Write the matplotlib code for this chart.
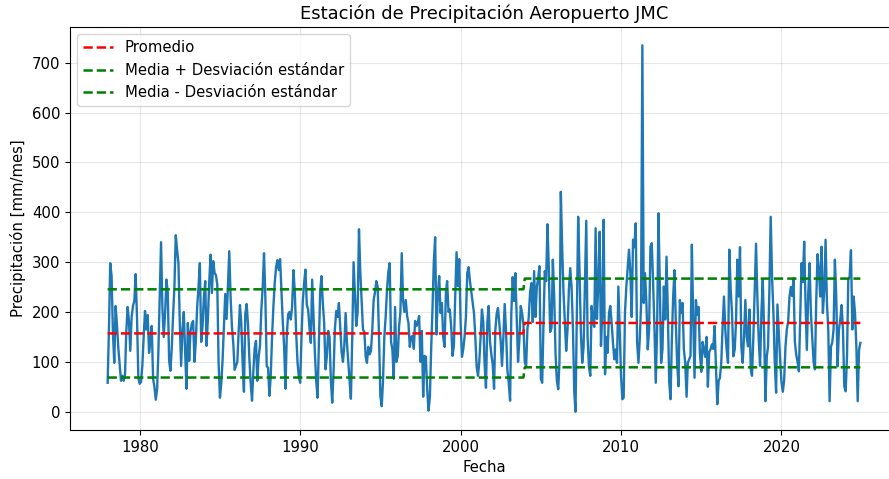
import matplotlib
matplotlib.use("Agg")
import matplotlib.pyplot as plt
import numpy as np
import pandas as pd

# Precipitación mensual (mm/mes), una fila por año, enero a diciembre
precip_1978_1989 = [
    58, 170, 298, 272, 160, 98, 212, 175, 128, 95, 62, 72,
    62, 75, 160, 210, 182, 122, 190, 212, 222, 276, 188, 68,
    56, 60, 92, 152, 202, 165, 194, 118, 142, 172, 66, 50,
    24, 46, 120, 232, 340, 208, 150, 198, 265, 238, 102, 82,
    130, 198, 250, 354, 325, 298, 180, 92, 165, 200, 118, 46,
    178, 102, 160, 176, 182, 100, 140, 210, 250, 298, 140, 170,
    230, 262, 132, 186, 258, 315, 238, 302, 278, 274, 255, 98,
    28, 58, 102, 168, 236, 186, 250, 322, 228, 170, 136, 84,
    92, 100, 158, 214, 178, 98, 40, 196, 216, 176, 108, 58,
    22, 82, 126, 142, 62, 110, 132, 205, 250, 318, 228, 92,
    88, 32, 70, 150, 210, 258, 290, 304, 284, 306, 240, 180,
    130, 46, 150, 195, 200, 185, 210, 284, 240, 160, 100, 70,
]
precip_1990_1999 = [
    58, 150, 220, 258, 285, 214, 205, 168, 138, 265, 190, 120,
    62, 28, 130, 240, 272, 218, 178, 85, 112, 162, 150, 62,
    18, 82, 165, 202, 190, 218, 168, 120, 100, 132, 198, 138,
    98, 60, 26, 150, 300, 236, 172, 200, 366, 280, 220, 165,
    160, 110, 98, 130, 115, 122, 165, 224, 240, 262, 250, 150,
    31, 11, 60, 150, 190, 245, 280, 298, 140, 125, 66, 210,
    100, 112, 170, 200, 318, 222, 200, 224, 192, 178, 130, 150,
    152, 126, 182, 172, 178, 192, 100, 162, 30, 112, 110, 46,
    2, 30, 122, 205, 300, 350, 155, 235, 272, 198, 218, 150,
    130, 240, 262, 200, 205, 170, 112, 132, 232, 320, 252, 306,
]
precip_2000_2009 = [
    182, 110, 125, 150, 190, 278, 290, 262, 240, 220, 198, 150,
    90, 72, 100, 150, 205, 180, 95, 48, 180, 212, 140, 115,
    95, 46, 162, 196, 208, 178, 142, 92, 150, 216, 160, 84,
    58, 22, 198, 270, 222, 278, 188, 100, 145, 212, 198, 175,
    100, 90, 165, 190, 240, 258, 180, 282, 190, 250, 268, 292,
    66, 58, 172, 282, 262, 376, 290, 160, 168, 305, 232, 118,
    62, 45, 100, 441, 330, 240, 180, 122, 165, 245, 288, 250,
    170, 40, 0, 200, 391, 280, 160, 98, 130, 250, 383, 150,
    90, 72, 212, 180, 170, 368, 186, 258, 361, 132, 200, 385,
    75, 150, 118, 198, 212, 178, 138, 105, 125, 98, 251, 165,
]
precip_2010_2019 = [
    71, 25, 28, 200, 250, 288, 325, 278, 190, 345, 330, 378,
    140, 98, 142, 212, 735, 218, 278, 218, 125, 165, 331, 338,
    258, 165, 58, 165, 398, 258, 98, 125, 251, 185, 311, 200,
    60, 25, 140, 230, 284, 178, 98, 51, 224, 198, 218, 125,
    98, 30, 98, 105, 112, 335, 190, 68, 224, 195, 210, 118,
    80, 140, 125, 110, 150, 50, 120, 125, 135, 126, 172, 90,
    15, 62, 68, 100, 170, 231, 165, 125, 98, 325, 245, 198,
    111, 125, 178, 305, 231, 330, 131, 98, 152, 224, 150, 131,
    205, 85, 72, 150, 244, 337, 231, 145, 92, 198, 265, 165,
    21, 111, 130, 245, 391, 270, 200, 100, 38, 215, 160, 105,
]
precip_2020_2024 = [
    60, 40, 62, 130, 165, 180, 230, 250, 232, 268, 140, 115,
    100, 81, 180, 298, 260, 341, 220, 124, 235, 298, 198, 150,
    100, 85, 218, 316, 285, 231, 331, 198, 245, 345, 218, 165,
    21, 131, 138, 165, 305, 231, 91, 165, 185, 214, 165, 51,
    41, 111, 265, 271, 324, 165, 231, 198, 131, 21, 124, 138,
]

# Estadísticos por periodo
inicio_periodo = ['1978-01-01', '2004-01-01']
promedio = [157, 178]
desviacion = [88.5, 89]

plt.rcParams['font.size'] = 10.7

precip = np.array(precip_1978_1989 + precip_1990_1999 + precip_2000_2009
                  + precip_2010_2019 + precip_2020_2024, dtype=float)
fechas = pd.date_range('1978-01-01', periods=len(precip), freq='MS')

# índice del periodo al que pertenece cada mes
idx = np.searchsorted(pd.to_datetime(inicio_periodo).values, fechas.values, side='right') - 1
media = np.array(promedio)[idx]
std = np.array(desviacion)[idx]

fig = plt.figure(figsize=(8.89, 4.79), dpi=100)
ax = fig.add_axes([70 / 889, 49 / 479, 828 / 889, 403 / 479])

ax.plot(fechas, precip, color='#1f77b4', linewidth=1.7)
ax.plot(fechas, media, color='red', linestyle='--', linewidth=1.8, label='Promedio')
ax.plot(fechas, media + std, color='green', linestyle='--', linewidth=1.8,
        label='Media + Desviación estándar')
ax.plot(fechas, media - std, color='green', linestyle='--', linewidth=1.8,
        label='Media - Desviación estándar')

ax.set_title('Estación de Precipitación Aeropuerto JMC', fontsize=12.9)
ax.set_xlabel('Fecha')
ax.set_ylabel('Precipitación [mm/mes]')
ax.set_yticks(np.arange(0, 701, 100))
ax.grid(True, alpha=0.3)
ax.legend(loc='upper left')

plt.savefig('out.png', dpi=100)
